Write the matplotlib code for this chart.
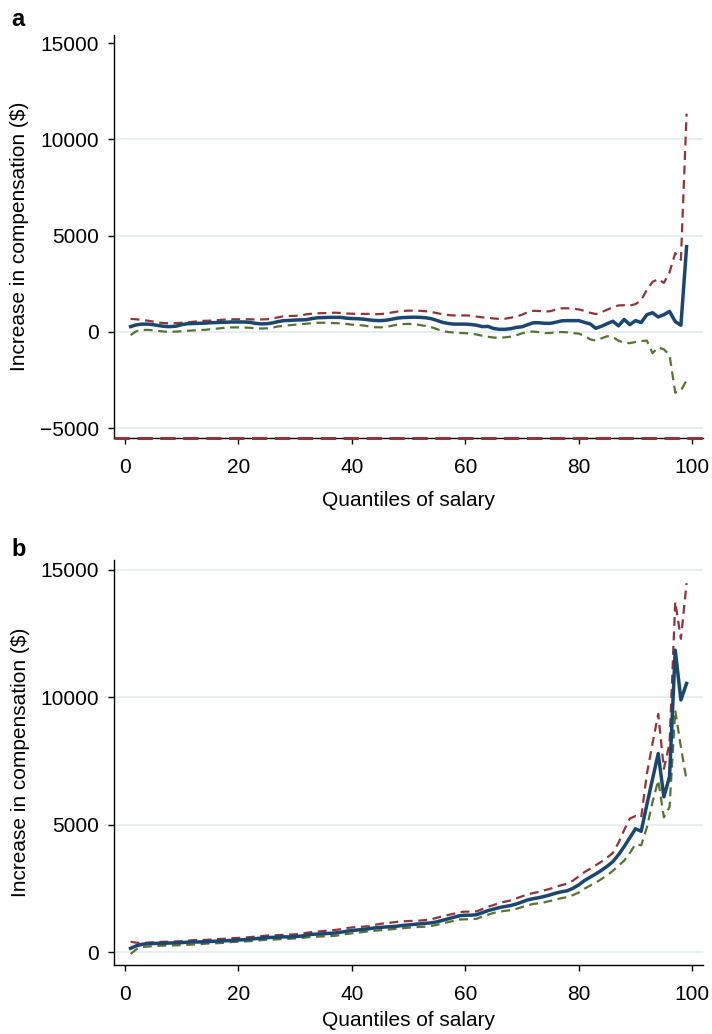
import matplotlib
matplotlib.use("Agg")
import matplotlib.pyplot as plt

plt.rcParams['font.family'] = ['Liberation Sans', 'DejaVu Sans']

# quantiles of salary
quantiles = list(range(1, 100))

# panel a: estimate with lower / upper bounds
est_a = [280, 370, 410, 410, 380, 330, 290, 280, 300, 380,
         430, 440, 450, 460, 480, 490, 500, 510, 520, 520,
         520, 500, 450, 420, 430, 470, 540, 590, 600, 620,
         630, 640, 700, 740, 750, 760, 760, 760, 720, 700,
         690, 670, 630, 600, 590, 610, 660, 720, 750, 760,
         770, 760, 740, 690, 600, 500, 440, 410, 410, 410,
         390, 350, 280, 290, 180, 140, 140, 170, 240, 270,
         380, 480, 480, 450, 450, 510, 580, 590, 590, 590,
         500, 420, 190, 300, 430, 560, 320, 650, 380, 590,
         490, 900, 1000, 780, 900, 1070, 540, 350, 4430]
hi_a = [680, 660, 620, 590, 540, 490, 460, 450, 460, 480,
        500, 530, 560, 580, 590, 610, 630, 650, 660, 660,
        660, 660, 650, 650, 660, 700, 760, 820, 830, 840,
        860, 920, 950, 970, 980, 990, 1000, 990, 960, 950,
        940, 940, 940, 930, 930, 960, 1010, 1060, 1090, 1110,
        1110, 1100, 1080, 1040, 980, 920, 880, 860, 860, 860,
        850, 800, 760, 740, 700, 680, 690, 740, 800, 900,
        1030, 1100, 1090, 1060, 1080, 1170, 1230, 1230, 1210, 1170,
        1100, 1000, 930, 1030, 1160, 1280, 1380, 1390, 1370, 1450,
        1650, 2200, 2600, 2750, 2550, 3100, 4100, 3750, 11340]
lo_a = [-160, 40, 100, 110, 90, 50, 20, 10, 20, 40,
        60, 80, 100, 110, 140, 170, 200, 230, 240, 240,
        230, 220, 190, 180, 190, 230, 290, 320, 350, 380,
        410, 430, 460, 480, 480, 470, 460, 450, 420, 380,
        360, 340, 290, 250, 240, 260, 320, 380, 410, 420,
        410, 360, 310, 250, 150, 50, 0, -30, -50, -60,
        -80, -130, -200, -250, -290, -300, -280, -240, -170, -70,
        10, 20, -10, -60, -50, -10, 0, -20, -60, -80,
        -200, -380, -450, -330, -220, -260, -450, -560, -580, -520,
        -470, -450, -1100, -800, -900, -1200, -3150, -3050, -2500]

# panel b
est_b = [160, 260, 320, 340, 350, 360, 360, 370, 380, 385,
         400, 410, 410, 420, 430, 440, 450, 460, 480, 490,
         500, 520, 540, 560, 580, 590, 600, 610, 610, 620,
         640, 680, 710, 720, 730, 750, 760, 790, 830, 860,
         880, 900, 930, 960, 980, 1000, 1010, 1030, 1060, 1080,
         1100, 1120, 1140, 1160, 1200, 1260, 1320, 1380, 1440, 1460,
         1460, 1480, 1560, 1640, 1700, 1760, 1800, 1840, 1900, 1980,
         2060, 2110, 2150, 2200, 2260, 2330, 2380, 2420, 2520, 2650,
         2820, 2950, 3080, 3220, 3380, 3560, 3830, 4150, 4500, 4850,
         4750, 5800, 6800, 7800, 6100, 6900, 11850, 9900, 10550]
hi_b = [420, 380, 370, 385, 400, 410, 420, 420, 430, 440,
        460, 480, 480, 490, 500, 520, 530, 540, 560, 570,
        580, 600, 620, 640, 660, 670, 680, 690, 700, 710,
        730, 770, 800, 820, 840, 860, 880, 910, 950, 980,
        1000, 1010, 1030, 1080, 1120, 1150, 1170, 1200, 1220, 1230,
        1240, 1250, 1270, 1300, 1360, 1420, 1470, 1520, 1580, 1600,
        1600, 1610, 1700, 1790, 1860, 1940, 1990, 2040, 2120, 2200,
        2280, 2330, 2380, 2440, 2500, 2580, 2640, 2700, 2820, 2980,
        3150, 3280, 3420, 3560, 3720, 3900, 4300, 4800, 5250, 5350,
        5300, 7000, 8200, 9350, 7200, 8200, 13750, 12300, 14480]
lo_b = [-60, 120, 210, 230, 250, 260, 270, 275, 280, 285,
        300, 310, 320, 340, 355, 360, 370, 390, 410, 420,
        430, 440, 460, 480, 500, 505, 515, 525, 535, 550,
        560, 590, 610, 620, 630, 640, 650, 680, 720, 750,
        770, 800, 830, 850, 870, 890, 910, 930, 950, 970,
        990, 1000, 1010, 1040, 1080, 1140, 1190, 1240, 1290, 1300,
        1300, 1320, 1410, 1480, 1550, 1600, 1630, 1660, 1710, 1780,
        1850, 1900, 1930, 1970, 2020, 2080, 2130, 2170, 2250, 2350,
        2500, 2620, 2740, 2880, 3020, 3200, 3400, 3600, 3900, 4250,
        4200, 4900, 5900, 6750, 5300, 5700, 9500, 8050, 6750]

x_ticks = [0, 20, 40, 60, 80, 100]
y_ticks_a = [-5000, 0, 5000, 10000, 15000]
y_ticks_b = [0, 5000, 10000, 15000]

navy = '#1a476f'
maroon = '#90353b'
green = '#55752f'
grid_col = '#e8eff1'

fig = plt.figure(figsize=(7.12, 10.34), dpi=100)
ax_a = fig.add_axes([0.160, 0.5764, 0.8274, 0.3898])
ax_b = fig.add_axes([0.160, 0.0667, 0.8274, 0.3917])


def style(ax, yticks, ylim, xpad):
    ax.plot(quantiles, hi, color=maroon, lw=1.6, dashes=(4, 2.5))
    ax.plot(quantiles, lo, color=green, lw=1.6, dashes=(4, 2.5))
    ax.plot(quantiles, est, color=navy, lw=2.5)
    ax.set_xlim(-1.94, 101.9)
    ax.set_ylim(*ylim)
    ax.set_xticks(x_ticks)
    ax.set_yticks(yticks)
    ax.spines['top'].set_visible(False)
    ax.spines['right'].set_visible(False)
    ax.spines['left'].set_linewidth(1.0)
    ax.spines['bottom'].set_linewidth(1.0)
    ax.tick_params(axis='both', labelsize=15, length=4.5, width=1.0)
    ax.tick_params(axis='y', pad=6)
    ax.tick_params(axis='x', pad=10)
    ax.yaxis.grid(True, color=grid_col, lw=1.4)
    ax.set_axisbelow(True)
    ax.set_xlabel('Quantiles of salary', fontsize=15, labelpad=xpad)
    ax.set_ylabel('Increase in compensation ($)', fontsize=15, labelpad=8)


hi, lo, est = hi_a, lo_a, est_a
style(ax_a, y_ticks_a, (-5506, 15428), 10)
ax_a.get_ygridlines()[-1].set_visible(False)
# dashed line lying on the bottom of panel a
ax_a.axhline(-5506, color=maroon, lw=2.2, dashes=(5, 2.5), clip_on=False, zorder=5)

hi, lo, est = hi_b, lo_b, est_b
style(ax_b, y_ticks_b, (-494, 15388), 5)

fig.text(0.016, 0.992, 'a', fontsize=17, fontweight='bold', va='top')
fig.text(0.016, 0.480, 'b', fontsize=17, fontweight='bold', va='top')

fig.savefig('out.png', dpi=100)
